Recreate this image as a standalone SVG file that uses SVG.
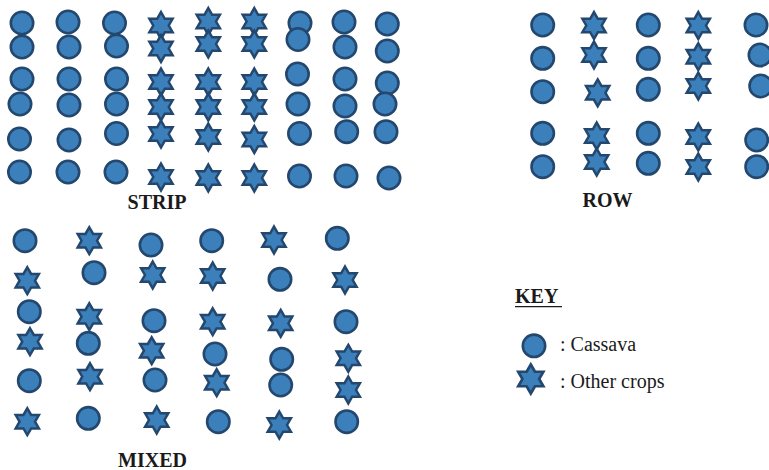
<svg xmlns="http://www.w3.org/2000/svg" xmlns:xlink="http://www.w3.org/1999/xlink" width="769" height="470" viewBox="0 0 769 470">
<style>
.c{fill:#3b7fbb;stroke:#24476e;stroke-width:2.6}
.s{fill:#3b7fbb;stroke:#24476e;stroke-width:2.5;stroke-linejoin:miter;stroke-miterlimit:10}
.lbl{font-weight:bold;font-size:20px;fill:#1a1a1a}
.txt{font-size:20px;fill:#1a1a1a}
</style>
<defs>
<path id="star" d="M0,-13.4 L3.87,-6.7 L11.6,-6.7 L7.74,0 L11.6,6.7 L3.87,6.7 L0,13.4 L-3.87,6.7 L-11.6,6.7 L-7.74,0 L-11.6,-6.7 L-3.87,-6.7 Z"/>
</defs>
<rect width="769" height="470" fill="#ffffff"/>

<g id="strip">
<g class="c">
<circle cx="22" cy="23" r="11.2"/><circle cx="22" cy="47" r="11.2"/><circle cx="22" cy="79" r="11.2"/><circle cx="20" cy="104" r="11.2"/><circle cx="19.5" cy="139" r="11.2"/><circle cx="19.5" cy="172" r="11.2"/>
<circle cx="68" cy="22" r="11.2"/><circle cx="69" cy="47" r="11.2"/><circle cx="69" cy="79" r="11.2"/><circle cx="69" cy="105" r="11.2"/><circle cx="69" cy="140" r="11.2"/><circle cx="68" cy="172" r="11.2"/>
<circle cx="114.5" cy="23" r="11.2"/><circle cx="116.5" cy="46" r="11.2"/><circle cx="116.5" cy="79" r="11.2"/><circle cx="116.5" cy="104" r="11.2"/><circle cx="116.5" cy="133.5" r="11.2"/><circle cx="116" cy="172" r="11.2"/>
<circle cx="300" cy="23" r="11.2"/><circle cx="298" cy="39.5" r="11.2"/><circle cx="297.5" cy="74" r="11.2"/><circle cx="298" cy="104" r="11.2"/><circle cx="299.5" cy="133.5" r="11.2"/><circle cx="299.5" cy="176" r="11.2"/>
<circle cx="344" cy="22" r="11.2"/><circle cx="345" cy="47" r="11.2"/><circle cx="345" cy="79" r="11.2"/><circle cx="345" cy="106" r="11.2"/><circle cx="346.7" cy="131.7" r="11.2"/><circle cx="346" cy="176" r="11.2"/>
<circle cx="387.3" cy="24" r="11.2"/><circle cx="387.3" cy="51" r="11.2"/><circle cx="387.3" cy="83" r="11.2"/><circle cx="385" cy="104" r="11.2"/><circle cx="386" cy="131.7" r="11.2"/><circle cx="389" cy="178" r="11.2"/>
</g>
<g class="s">
<use xlink:href="#star" x="161" y="25.5"/><use xlink:href="#star" x="161" y="48.5"/><use xlink:href="#star" x="161" y="82"/><use xlink:href="#star" x="161" y="107"/><use xlink:href="#star" x="161" y="134"/><use xlink:href="#star" x="161" y="177"/>
<use xlink:href="#star" x="208.3" y="21.5"/><use xlink:href="#star" x="208.3" y="44"/><use xlink:href="#star" x="208.3" y="82"/><use xlink:href="#star" x="208.3" y="107"/><use xlink:href="#star" x="208.3" y="137"/><use xlink:href="#star" x="208.3" y="178"/>
<use xlink:href="#star" x="254.3" y="21.5"/><use xlink:href="#star" x="254.3" y="44"/><use xlink:href="#star" x="254.3" y="82"/><use xlink:href="#star" x="254.3" y="107"/><use xlink:href="#star" x="254.3" y="139.5"/><use xlink:href="#star" x="254.3" y="178"/>
</g>
<text class="lbl" font-family="Liberation Serif, serif" x="157" y="209" text-anchor="middle">STRIP</text>
</g>

<g id="row">
<g class="c">
<circle cx="542.7" cy="25" r="11.2"/><circle cx="542.7" cy="58.3" r="11.2"/><circle cx="542.7" cy="91.7" r="11.2"/><circle cx="542.7" cy="133.3" r="11.2"/><circle cx="542.7" cy="166.7" r="11.2"/>
<circle cx="648.3" cy="25" r="11.2"/><circle cx="648.3" cy="58.3" r="11.2"/><circle cx="648.3" cy="89.3" r="11.2"/><circle cx="648.3" cy="133.3" r="11.2"/><circle cx="648.3" cy="163.3" r="11.2"/>
<circle cx="756" cy="25" r="11.2"/><circle cx="760" cy="55" r="11.2"/><circle cx="760.7" cy="86" r="11.2"/><circle cx="756.7" cy="140" r="11.2"/><circle cx="756.7" cy="166.7" r="11.2"/>
</g>
<g class="s">
<use xlink:href="#star" x="594" y="25.5"/><use xlink:href="#star" x="594" y="55"/><use xlink:href="#star" x="597.7" y="92.8"/><use xlink:href="#star" x="596.7" y="136"/><use xlink:href="#star" x="596.7" y="162"/>
<use xlink:href="#star" x="698.3" y="25.5"/><use xlink:href="#star" x="698.3" y="56.7"/><use xlink:href="#star" x="698.3" y="86"/><use xlink:href="#star" x="698.3" y="137"/><use xlink:href="#star" x="698.3" y="167"/>
</g>
<text class="lbl" font-family="Liberation Serif, serif" x="607.5" y="206.5" text-anchor="middle">ROW</text>
</g>

<g id="mixed">
<g class="c">
<circle cx="25" cy="240.7" r="11.2"/><circle cx="151" cy="245" r="11.2"/><circle cx="211.7" cy="240.7" r="11.2"/><circle cx="337.3" cy="238.3" r="11.2"/>
<circle cx="94" cy="272.7" r="11.2"/><circle cx="280" cy="279.3" r="11.2"/>
<circle cx="29.3" cy="311.7" r="11.2"/><circle cx="154" cy="320.7" r="11.2"/><circle cx="346" cy="321.7" r="11.2"/>
<circle cx="88.3" cy="343.3" r="11.2"/><circle cx="215" cy="354" r="11.2"/><circle cx="281.7" cy="359.3" r="11.2"/>
<circle cx="29.3" cy="380.7" r="11.2"/><circle cx="155" cy="380" r="11.2"/><circle cx="280.7" cy="385" r="11.2"/>
<circle cx="88.3" cy="418.3" r="11.2"/><circle cx="218.3" cy="421.7" r="11.2"/><circle cx="346.7" cy="421.7" r="11.2"/>
</g>
<g class="s">
<use xlink:href="#star" x="89.3" y="240.7"/><use xlink:href="#star" x="274" y="240"/>
<use xlink:href="#star" x="27.3" y="280.7"/><use xlink:href="#star" x="152.7" y="275"/><use xlink:href="#star" x="212.7" y="276"/><use xlink:href="#star" x="345" y="280"/>
<use xlink:href="#star" x="89.3" y="316.7"/><use xlink:href="#star" x="212.7" y="321.7"/><use xlink:href="#star" x="280.7" y="323.3"/>
<use xlink:href="#star" x="30" y="341.7"/><use xlink:href="#star" x="151.7" y="350.7"/><use xlink:href="#star" x="348.3" y="358.3"/>
<use xlink:href="#star" x="90" y="376.7"/><use xlink:href="#star" x="216.7" y="382.7"/><use xlink:href="#star" x="348.3" y="390"/>
<use xlink:href="#star" x="27.3" y="421.7"/><use xlink:href="#star" x="156.7" y="420"/><use xlink:href="#star" x="279.3" y="425"/>
</g>
<text class="lbl" font-family="Liberation Serif, serif" x="152.5" y="466.5" text-anchor="middle">MIXED</text>
</g>

<g id="key">
<text class="lbl" font-family="Liberation Serif, serif" x="515" y="303">KEY</text>
<line x1="515" y1="306.6" x2="562" y2="306.6" stroke="#1a1a1a" stroke-width="1.4"/>
<circle class="c" cx="534" cy="345.8" r="11.2"/>
<text class="txt" font-family="Liberation Serif, serif" x="560" y="351">: Cassava</text>
<use class="s" xlink:href="#star" x="530.8" y="379" transform="translate(530.8 379) scale(1.08) translate(-530.8 -379)"/>
<text class="txt" font-family="Liberation Serif, serif" x="560" y="388">: Other crops</text>
</g>
</svg>
